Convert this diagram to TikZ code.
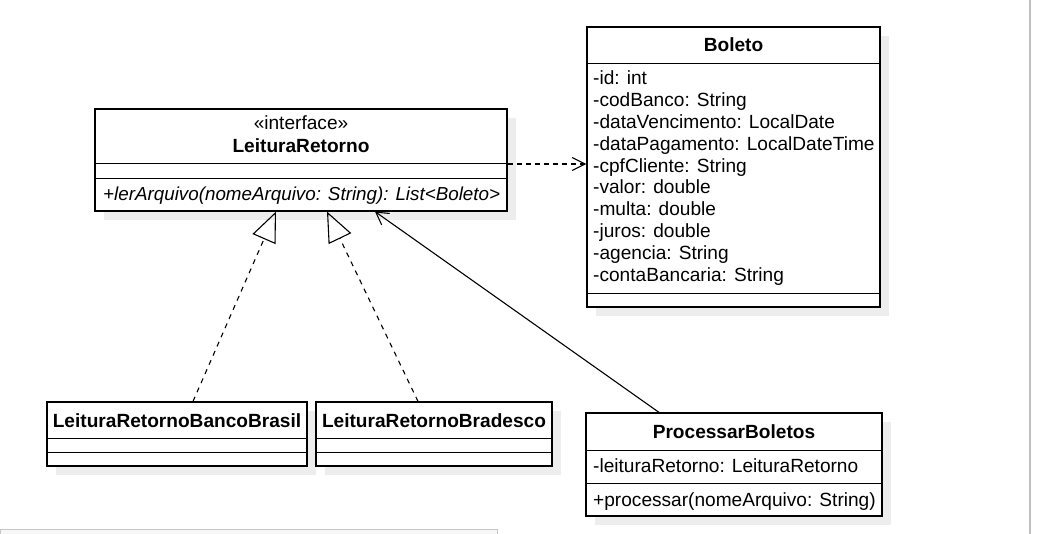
\documentclass[tikz,border=0pt]{standalone}
\usepackage{fontspec}
\setmainfont{Liberation Sans}
\usetikzlibrary{arrows.meta,shadows}
\newcommand{\umlsize}{\fontsize{19.1}{22}\selectfont}
\tikzstyle{classbox}=[draw,line width=1.2pt,fill=white,inner sep=0pt,drop shadow={shadow xshift=9pt,shadow yshift=-9pt,fill=black!7,opacity=1}]
\tikzstyle{divider}=[line width=1.2pt]
\tikzstyle{member}=[anchor=base west,inner sep=0pt,font=\umlsize]
\tikzstyle{title}=[anchor=base,inner sep=0pt,font=\umlsize\bfseries]
\tikzstyle{realize}=[line width=1.1pt,dash pattern=on 5pt off 5pt,-{Triangle[open,length=30pt,width=25pt]}]
\tikzstyle{depend}=[line width=1.1pt,dash pattern=on 5pt off 4pt,-{Straight Barb[length=13pt,width=13pt]}]
\tikzstyle{assoc}=[line width=1.1pt,-{Straight Barb[length=12pt,width=14pt]}]

\begin{document}
\begin{tikzpicture}[x=1pt,y=-1pt]
\useasboundingbox (0,0) rectangle (1049,534);
% screenshot edges
\draw[black!22,fill=black!3] (0,529) rectangle (497,540);
\draw[black!25,line width=1.5pt] (1030,0) -- (1030,534);

% interface
\node[classbox,minimum width=412pt,minimum height=102pt] (leitura) at (301,160) {};
\draw[divider] ([yshift=-55pt]leitura.north west) -- ([yshift=-55pt]leitura.north east);
\draw[divider] ([yshift=-70pt]leitura.north west) -- ([yshift=-70pt]leitura.north east);
\node[title,font=\umlsize] (leituraStereo) at (301,130) {«interface»};
\node[title] (leituraName) at (301,153) {LeituraRetorno};
\node[member,font=\fontsize{18.8}{22}\selectfont\itshape] (leituraOp) at (103,201) {+lerArquivo(nomeArquivo: String): List<Boleto>};

% Boleto
\node[classbox,minimum width=293pt,minimum height=280pt] (boleto) at (733.5,167) {};
\draw[divider] ([yshift=-37pt]boleto.north west) -- ([yshift=-37pt]boleto.north east);
\draw[divider] ([yshift=-267pt]boleto.north west) -- ([yshift=-267pt]boleto.north east);
\node[title] (boletoName) at (733.5,52) {Boleto};
\foreach \attr [count=\i from 0] in {-id: int,-codBanco: String,-dataVencimento: LocalDate,-dataPagamento: LocalDateTime,-cpfCliente: String,-valor: double,-multa: double,-juros: double,-agencia: String,-contaBancaria: String}
    \node[member] (boletoAttr\i) at (593,85+21.8*\i) {\attr};

% implementations
\node[classbox,minimum width=260pt,minimum height=64pt] (bancoBrasil) at (177,434) {};
\draw[divider] ([yshift=-37pt]bancoBrasil.north west) -- ([yshift=-37pt]bancoBrasil.north east);
\draw[divider] ([yshift=-51pt]bancoBrasil.north west) -- ([yshift=-51pt]bancoBrasil.north east);
\node[title] (bancoBrasilName) at (177,427) {LeituraRetornoBancoBrasil};

\node[classbox,minimum width=236pt,minimum height=64pt] (bradesco) at (434,434) {};
\draw[divider] ([yshift=-37pt]bradesco.north west) -- ([yshift=-37pt]bradesco.north east);
\draw[divider] ([yshift=-51pt]bradesco.north west) -- ([yshift=-51pt]bradesco.north east);
\node[title] (bradescoName) at (434,427) {LeituraRetornoBradesco};

% ProcessarBoletos
\node[classbox,minimum width=296pt,minimum height=103pt] (processar) at (734,464.5) {};
\draw[divider] ([yshift=-38pt]processar.north west) -- ([yshift=-38pt]processar.north east);
\draw[divider] ([yshift=-71pt]processar.north west) -- ([yshift=-71pt]processar.north east);
\node[title] (processarName) at (734,438) {ProcessarBoletos};
\node[member] (processarAttr) at (593,472) {-leituraRetorno: LeituraRetorno};
\node[member] (processarOp) at (593,506) {+processar(nomeArquivo: String)};

% relations
\draw[depend] ([yshift=-4pt]leitura.east) -- ([yshift=-4pt]leitura.east -| boleto.west);
\draw[realize] ([xshift=16pt]bancoBrasil.north) -- ([xshift=-25pt]leitura.south);
\draw[realize] ([xshift=-16pt]bradesco.north) -- ([xshift=26pt]leitura.south);
\draw[assoc] ([xshift=-75pt]processar.north) -- ([xshift=74pt]leitura.south);
\end{tikzpicture}
\end{document}
